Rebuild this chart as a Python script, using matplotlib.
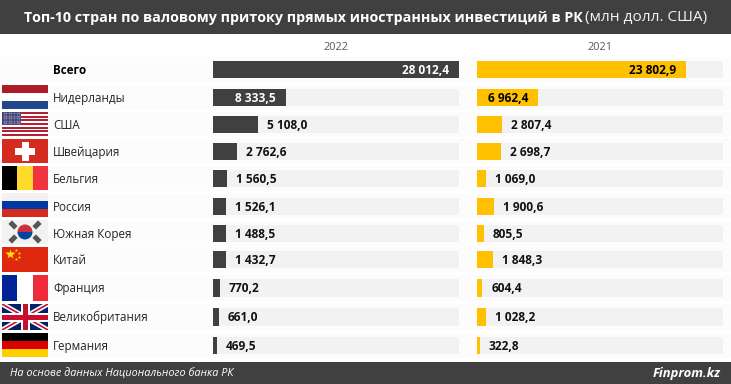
import matplotlib
matplotlib.use("Agg")
import matplotlib.pyplot as plt
from matplotlib.patches import Rectangle, Wedge
from matplotlib.lines import Line2D

countries = ["Всего", "Нидерланды", "США", "Швейцария", "Бельгия", "Россия",
             "Южная Корея", "Китай", "Франция", "Великобритания", "Германия"]
values_2022 = [28012.4, 8333.5, 5108.0, 2762.6, 1560.5, 1526.1, 1488.5, 1432.7, 770.2, 661.0, 469.5]
values_2021 = [23802.9, 6962.4, 2807.4, 2698.7, 1069.0, 1900.6, 805.5, 1848.3, 604.4, 1028.2, 322.8]
year_labels = ["2022", "2021"]
title_bold = "Топ-10 стран по валовому притоку прямых иностранных инвестиций в РК"
title_light = "(млн долл. США)"
source = "На основе данных Национального банка РК"
brand = "Finprom.kz"

W, H = 731, 384
DARK, YEL, TRACK = "#404040", "#FFC000", "#F2F2F2"
FONT = "Open Sans"
row_top = [61, 89, 116, 143, 170, 198, 225, 251, 279, 308, 337]
row_h = [17, 17, 17, 17, 17, 17, 17, 17, 18, 18, 17]
flag_box = [None, (85, 24), (112, 24), (139, 24), (166, 24), (193, 24), (220, 24), (247, 25), (275, 26), (304, 26), (333, 24)]


def fmt(v):
    return f"{v:,.1f}".replace(",", " ").replace(".", ",")


fig = plt.figure(figsize=(W / 100, H / 100), dpi=100, facecolor="white")
ax = fig.add_axes([0, 0, 1, 1])
ax.set_xlim(0, W)
ax.set_ylim(H, 0)
ax.axis("off")


def R(x, y, w, h, c, z=2, **k):
    ax.add_patch(Rectangle((x, y), w, h, facecolor=c, edgecolor="none", zorder=z, **k))


# header / footer
R(0, 0, W, 34, DARK)
R(0, 362, W, 22, DARK)
ax.text(24, 18, title_bold, color="white", fontsize=10.22, fontweight="bold", family=FONT,
        va="center", ha="left", zorder=5)
ax.text(707, 18, title_light, color="#F2F2F2", fontsize=11.1, family=FONT, va="center", ha="right", zorder=5)
ax.text(10, 373, source, color="white", fontsize=7.85, style="italic", family=FONT, va="center", zorder=5)
ax.text(721, 374, brand, color="white", fontsize=9.4, style="italic", fontweight="bold", family=FONT,
        va="center", ha="right", zorder=5)

ax.text(336, 47, year_labels[0], color="#595959", fontsize=7.9, family=FONT, ha="center", va="center")
ax.text(600, 47, year_labels[1], color="#595959", fontsize=7.9, family=FONT, ha="center", va="center")

# pale row bands
for top, h in zip(row_top, row_h):
    R(0, top - 4, W, h + 8, "#FCFCFC", z=0)


# flags
def hstripes(box, cols):
    y, h = box
    n = len(cols)
    for i, c in enumerate(cols):
        R(2, y + h * i / n, 46, h / n + .2, c)


def vstripes(box, cols):
    y, h = box
    n = len(cols)
    for i, c in enumerate(cols):
        R(2 + 46 * i / n, y, 46 / n + .2, h, c)


hstripes(flag_box[1], ["#AE1C28", "#FFFFFF", "#21468B"])
# USA
y, h = flag_box[2]
for i in range(13):
    R(2, y + h * i / 13, 46, h / 13 + .1, "#B22234" if i % 2 == 0 else "#FFFFFF")
R(2, y, 18.5, h * 7 / 13, "#3C3B6E", z=3)
for j in range(5):
    for i in range(7):
        ax.plot(3.5 + i * 2.6, y + 1.3 + j * 2.5, ".", ms=0.8, color="#9A9ABC", zorder=4)
# Swiss
y, h = flag_box[3]
R(2, y, 46, h, "#D52B1E")
R(15, y + h / 2 - 3.5, 20, 7, "white", z=3)
R(21.5, y + 2.5, 7, h - 5, "white", z=3)
vstripes(flag_box[4], ["#000000", "#FFD92B", "#EF3340"])
hstripes(flag_box[5], ["#F2F2F2", "#0039A6", "#D52B1E"])
# Korea
y, h = flag_box[6]
R(2, y, 46, h, "#F2F2F2")
cx, cy = 25, y + h / 2
ax.add_patch(Wedge((cx, cy), 7.5, 0, 180, fc="#0047A0", ec="none", zorder=4))
ax.add_patch(Wedge((cx, cy), 7.5, 180, 360, fc="#CD2E3A", ec="none", zorder=4))
for dx, dy, ang in [(-12, -7, 45), (12, -7, -45), (-12, 7, -45), (12, 7, 45)]:
    ax.add_patch(Rectangle((cx + dx - 4, cy + dy - 2.5), 8, 5, angle=ang, rotation_point="center",
                           fc="#555555", ec="none", zorder=4))
# China
y, h = flag_box[7]
R(2, y, 46, h, "#DE2910")
ax.plot([10], [y + 6.5], marker="*", ms=7, color="#FFDE00", mec="none", zorder=4)
for dx, dy in [(16, 2.5), (19, 5.5), (19, 9.5), (16, 12)]:
    ax.plot([dx], [y + dy], marker="*", ms=2.5, color="#FFDE00", mec="none", zorder=4)
vstripes(flag_box[8], ["#002395", "#FFFFFF", "#EF2B3C"])
# UK
y, h = flag_box[9]
R(2, y, 46, h, "#012169")
clip = Rectangle((2, y), 46, h, transform=ax.transData)
for (a, b), (c, d) in [((2, y), (48, y + h)), ((2, y + h), (48, y))]:
    l = Line2D([a, c], [b, d], color="white", lw=3.6, zorder=3)
    ax.add_line(l); l.set_clip_path(clip)
    l = Line2D([a, c], [b, d], color="#C8102E", lw=1.2, zorder=3.1)
    ax.add_line(l); l.set_clip_path(clip)
R(2, y + h / 2 - 4.5, 46, 9, "white", z=3.2)
R(20.5, y, 9, h, "white", z=3.2)
R(2, y + h / 2 - 2.5, 46, 5, "#C8102E", z=3.3)
R(22.5, y, 5, h, "#C8102E", z=3.3)
hstripes(flag_box[10], ["#000000", "#DD0000", "#FFCE00"])

# country labels
for i, (name, top, h) in enumerate(zip(countries, row_top, row_h)):
    ax.text(53, top + h / 2 + 0.6, name, color="black" if i == 0 else "#262626", family=FONT,
            fontsize=8.4, fontweight="bold" if i == 0 else "normal", va="center", zorder=5)

# bars
scale_max = values_2022[0]
for vals, x0, colour, head_txt in [(values_2022, 213, DARK, "white"), (values_2021, 477, YEL, "black")]:
    for i, (v, top, h) in enumerate(zip(vals, row_top, row_h)):
        R(x0, top, 246, h, TRACK, z=1)
        w = 246 * v / scale_max
        R(x0, top, w, h, colour)
        if v > 6000:
            ax.text(x0 + w - 10, top + h / 2 + 0.6, fmt(v), color=head_txt, fontsize=8.6, fontweight="bold",
                    family=FONT, ha="right", va="center", zorder=5)
        else:
            ax.text(x0 + w + 9, top + h / 2 + 0.6, fmt(v), color="#111111", fontsize=8.6, fontweight="bold",
                    family=FONT, ha="left", va="center", zorder=5)

fig.savefig("out.png", dpi=100, facecolor="white")
